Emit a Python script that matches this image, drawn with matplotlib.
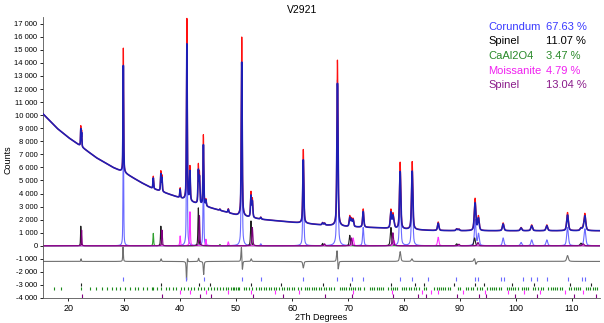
import numpy as np
import matplotlib.pyplot as plt

plt.rcParams['font.family'] = ['Liberation Sans', 'DejaVu Sans']
plt.rcParams['axes.unicode_minus'] = False

# background of the measured pattern (2Th, counts)
bg_tth = [15.5, 18, 20, 22, 25, 28, 30, 33, 35, 38, 40, 43, 45, 48, 50, 53, 55, 58, 60, 65, 70, 75, 80, 85, 90, 100, 115]
bg_cnt = [10100, 9000, 8300, 7700, 6750, 6000, 5600, 4850, 4400, 3950, 3650, 3200, 2950, 2600, 2350, 2120, 2000, 1880, 1800, 1600, 1450, 1380, 1260, 1170, 1150, 1150, 1150]

# phase peaks (position, net height)
corundum_pos = [29.85, 41.2, 44.15, 51.0, 54.4, 62.0, 68.1, 72.7, 79.3, 81.45, 92.7, 93.3, 97.7, 100.9, 102.8, 105.5, 109.2, 112.3]
corundum_int = [9500, 13900, 5400, 13700, 150, 5650, 12700, 1400, 5100, 5200, 2000, 900, 600, 250, 450, 450, 1400, 1300]
spinel_pos = [22.25, 36.55, 43.25, 52.65, 65.45, 70.3, 77.65, 89.4, 92.6, 111.6]
spinel_int = [1500, 1500, 2900, 1900, 180, 800, 1400, 150, 600, 200]
caal_pos = [35.2, 47.1]
caal_int = [950, 100]
moiss_pos = [40.0, 41.75, 44.6, 48.6, 70.9, 78.2, 86.1]
moiss_int = [750, 2600, 500, 300, 600, 400, 650]
spinel2_pos = [22.4, 36.75, 43.45, 52.9, 65.8, 70.6, 78.0, 89.8, 93.2, 112.0]
spinel2_int = [1200, 1200, 2300, 1400, 150, 600, 1000, 120, 250, 150]

# difference curve spikes (position, amplitude)
diff_pos = [22.3, 29.8, 36.6, 41.15, 41.3, 43.3, 44.2, 50.95, 51.1, 52.7, 62.0, 68.05, 68.2, 79.3, 81.4, 92.6, 92.8, 109.2]
diff_amp = [200, 1100, 200, -1500, 400, 250, -1000, 1250, -850, 200, -500, 1100, -900, 750, 200, 300, -300, 450]

# reflection marks
corundum_hkl = [29.8, 41.1, 44.2, 51.0, 54.4, 62.0, 68.1, 70.7, 72.7, 79.3, 81.4, 84.2, 89.3, 92.7, 93.2, 97.4, 97.9, 101.2, 102.6, 103.7, 105.6, 109.2, 111.7, 112.4]
spinel_hkl = [22.3, 36.6, 43.3, 45.3, 52.7, 58.0, 65.5, 70.3, 77.7, 82.0, 83.5, 89.0, 92.7, 94.2, 99.2, 103.2, 109.7, 113.4]
caal_hkl = [17.5, 18.7, 22.3, 23.9, 25.0, 26.1, 27.0, 27.9, 28.6, 29.3, 30.2, 31.0, 31.9, 32.5, 33.4, 34.1, 34.9, 35.2,
            35.9, 36.6, 37.4, 38.0, 38.7, 39.3, 40.1, 40.6, 41.4, 42.0, 42.5, 43.1, 43.7, 44.2, 44.9, 45.5, 46.0, 46.6,
            47.1, 47.7, 48.2, 48.6, 49.1, 49.4, 49.7, 50.0, 50.3, 50.6, 51.4, 51.8, 52.3, 52.9, 53.5, 54.0, 54.4, 54.9,
            55.3, 55.8, 56.3, 56.7, 57.1, 57.7, 58.2, 58.6, 59.0, 59.5, 60.0, 60.4, 61.0, 61.5, 62.3, 62.7, 63.1, 63.5,
            63.9, 64.3, 64.8, 65.2, 65.7, 66.1, 66.6, 67.0, 67.5, 68.5, 68.9, 69.3, 69.7, 70.1, 70.5, 70.9, 71.3, 71.7,
            72.1, 72.9, 73.9, 74.3, 74.7, 75.1, 75.5, 75.9, 76.3, 77.2, 77.6, 78.0, 78.4, 78.8, 79.6, 80.0, 80.4, 80.8,
            81.2, 81.8, 82.2, 82.6, 83.6, 84.0, 85.4, 85.8, 86.2, 86.6, 87.0, 87.4, 87.8, 88.2, 89.6, 90.0, 91.1, 91.5,
            91.9, 92.3, 93.1, 93.5, 93.9, 94.9, 95.3, 95.7, 96.1, 96.5, 97.0, 97.4, 98.3, 98.7, 99.1, 99.5, 99.9, 100.3,
            101.0, 101.4, 101.8, 102.2, 103.0, 103.4, 104.0, 104.4, 104.8, 105.8, 106.2, 106.6, 107.0, 107.4, 107.8,
            108.2, 109.5, 109.9, 110.3, 110.7, 111.1, 111.5, 112.5, 112.9, 113.3, 113.7, 114.1, 114.5]
moiss_hkl = [40.0, 41.7, 44.6, 48.6, 52.6, 57.0, 61.2, 70.9, 77.8, 83.2, 84.8, 86.1, 90.6, 94.5, 98.6, 101.5, 104.3, 108.8, 112.0]
spinel2_hkl = [22.4, 36.8, 43.5, 45.5, 53.0, 58.3, 65.9, 70.7, 78.1, 82.5, 84.0, 89.5, 93.3, 94.7, 99.8, 103.8, 110.4, 114.2]

phase_names = ['Corundum', 'Spinel', 'CaAl2O4', 'Moissanite', 'Spinel']
phase_pct = ['67.63 %', '11.07 %', '3.47 %', '4.79 %', '13.04 %']
phase_colors = ['#3a3aff', '#000000', '#2a8a2a', '#f020f0', '#8a1a8a']
curve_colors = ['#6a6aff', '#202020', '#30a030', '#ff30ff', '#800080']


def profile(x, pos, hts, scale=1.0):
    y = np.zeros_like(x)
    for p, h in zip(pos, hts):
        w = 0.09 + 0.0028 * (p - 15)
        d = (x - p) / (w / 2)
        y += scale * h * (0.5 / (1 + d ** 2) + 0.5 * np.exp(-np.log(2) * d ** 2))
    return y


x = np.arange(15.5, 115.0, 0.01)
bg = np.interp(x, bg_tth, bg_cnt)
phases = [(corundum_pos, corundum_int), (spinel_pos, spinel_int), (caal_pos, caal_int),
          (moiss_pos, moiss_int), (spinel2_pos, spinel2_int)]
calc = bg + sum(profile(x, p, h) for p, h in phases)
obs = bg + sum(profile(x, p, h, 0.86) for p, h in phases)
diff = -1200 + profile(x, diff_pos, diff_amp)

fig = plt.figure(figsize=(6.04, 3.23), dpi=100)
ax = fig.add_axes([43 / 604, 25 / 323, 557 / 604, 280.8 / 323])

ax.plot(x, calc, color='#ff1010', lw=0.9, zorder=3)
ax.plot(x, obs, color='#1e1eb4', lw=1.2, zorder=4)
for (p, h), c in zip(phases, curve_colors):
    ax.plot(x, profile(x, p, h), color=c, lw=0.8, zorder=2)
ax.plot(x, diff, color='#707070', lw=0.8, zorder=2)

# reflection marks
rows = [(corundum_hkl, -2550, curve_colors[0]), (spinel_hkl, -2950, '#202020'), (caal_hkl, -3250, '#1a8a1a'),
        (moiss_hkl, -3550, '#ff30ff'), (spinel2_hkl, -3850, '#800080')]
for pos, y0, c in rows:
    ax.vlines(pos, y0 - 130, y0 + 130, colors=c, lw=0.8)

ax.set_xlim(15.5, 115)
ax.set_ylim(-4000, 17500)
ax.set_xticks(np.arange(20, 111, 10))
ax.set_yticks(np.arange(-4000, 17001, 1000))
ax.set_yticklabels([f'{v:,}'.replace(',', ' ') for v in range(-4000, 17001, 1000)])
ax.tick_params(axis='y', labelsize=5.5, length=2.5, width=0.6, pad=1.5)
ax.tick_params(axis='x', labelsize=6.5, length=2.5, width=0.6, pad=2)
for s in ['top', 'right']:
    ax.spines[s].set_visible(False)
for s in ['left', 'bottom']:
    ax.spines[s].set_linewidth(0.6)
    ax.spines[s].set_color('#555555')

ax.set_xlabel('2Th Degrees', fontsize=6.5, labelpad=0)
fig.text(8 / 604, 1 - 160 / 323, 'Counts', rotation=90, fontsize=6.5, ha='center', va='center')
fig.text(302 / 604, 1 - 10 / 323, 'V2921', fontsize=7.5, ha='center', va='center')

for i in range(5):
    yy = 1 - (27 + 14.5 * i) / 323
    fig.text(488 / 604, yy, phase_names[i], color=phase_colors[i], fontsize=8, va='center')
    fig.text(546 / 604, yy, phase_pct[i], color=phase_colors[i], fontsize=8, va='center')

fig.savefig('out.png', dpi=100)
